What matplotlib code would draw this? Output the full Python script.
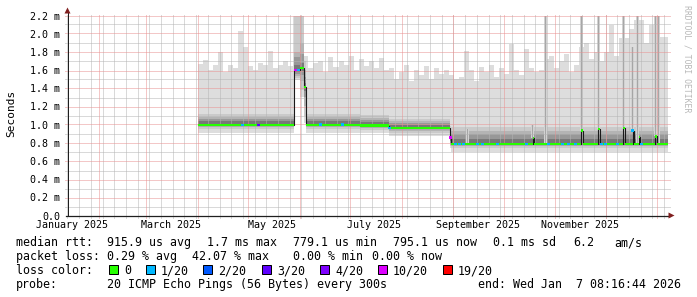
import matplotlib
matplotlib.use('Agg')
import matplotlib.pyplot as plt
import matplotlib.dates as mdates
from matplotlib.patches import Polygon, Rectangle
import numpy as np
import pandas as pd

W, H = 697, 297
plt.rcParams['font.family'] = ['DejaVu Sans Mono']

end_time = pd.Timestamp('2026-01-07 08:16:44')
start_time = end_time - pd.Timedelta(days=359)

# highest ping of each 3-day bin (ms), bins start at first_bin
first_bin = '2025-04-01 12:00'
bin_days = 3
max_ping = [
    1.67, 1.71, 1.60, 1.66, 1.80, 1.58, 1.66, 1.62, 2.03, 1.85,
    1.64, 1.60, 1.68, 1.66, 1.81, 1.62, 1.66, 1.70, 1.64,
    2.40, 2.40, 1.75,
    1.62, 1.68, 1.70, 1.58, 1.74, 1.63, 1.70, 1.66, 1.75, 1.60,
    1.72, 1.65, 1.70, 1.62, 1.73, 1.60,
    1.62, 1.50, 1.58, 1.66, 1.48, 1.60, 1.55, 1.64, 1.50, 1.62, 1.56, 1.60,
    1.55, 1.50, 1.52, 1.81, 1.60, 1.48, 1.63, 1.58, 1.66, 1.52,
    1.62, 1.56, 1.89, 1.60, 1.55, 1.83, 1.62, 1.58, 1.60, 1.72,
    1.75, 1.62, 1.70, 1.78, 1.58, 1.66, 1.85, 1.90, 1.72, 1.80,
    1.70, 1.80, 2.10, 1.75, 1.95, 1.95, 2.05, 2.15, 2.15, 1.90,
    2.10, 2.18, 1.96, 1.96,
]

# periods with a steady median, and the ping spread (ms) in each
seg_start = ['2025-04-01 12:00', '2025-05-28 14:00', '2025-06-01 04:00',
             '2025-06-03 14:00', '2025-06-04 18:00', '2025-07-07 14:00',
             '2025-07-24 10:00', '2025-08-29 22:00', '2025-08-31 00:00']
seg_median = [0.995, 1.60, 1.62, 1.41, 1.00, 0.99, 0.96, 0.86, 0.785]
seg_min = [0.91, 1.49, 1.30, 1.02, 0.91, 0.91, 0.88, 0.74, 0.70]
band2_lo = [0.95, 1.51, 1.38, 1.10, 0.95, 0.945, 0.91, 0.76, 0.745]
band2_hi = [1.12, 2.40, 2.40, 1.70, 1.12, 1.11, 1.06, 0.98, 0.97]
band3_lo = [0.97, 1.54, 1.48, 1.20, 0.97, 0.965, 0.935, 0.78, 0.765]
band3_hi = [1.085, 1.80, 1.90, 1.60, 1.085, 1.075, 1.04, 0.95, 0.93]
band4_lo = [0.98, 1.56, 1.55, 1.30, 0.98, 0.975, 0.95, 0.80, 0.775]
band4_hi = [1.06, 1.74, 1.78, 1.52, 1.06, 1.05, 1.02, 0.92, 0.895]
band5_lo = [0.99, 1.58, 1.59, 1.37, 0.99, 0.985, 0.955, 0.82, 0.78]
band5_hi = [1.035, 1.66, 1.68, 1.46, 1.035, 1.025, 0.995, 0.89, 0.845]

# short median jumps
med_spike = ['2025-10-18 14:00', '2025-11-16 20:00', '2025-11-27 00:00',
             '2025-12-12 00:00', '2025-12-17 10:00', '2025-12-21 00:00',
             '2025-12-31 00:00']
med_spike_val = [0.85, 0.935, 0.95, 0.96, 0.935, 0.86, 0.87]

# narrow smoke columns
spike_time = ['2025-09-09 12:00', '2025-10-18 14:00', '2025-10-26 10:00',
              '2025-11-16 20:00', '2025-11-27 00:00', '2025-12-12 00:00',
              '2025-12-17 10:00', '2025-12-20 10:00', '2025-12-31 00:00',
              '2026-01-01 20:00']
spike_top = [0.95, 1.00, 2.30, 2.30, 2.30, 2.30, 1.85, 2.30, 2.30, 2.30]

# lost pings (out of 20)
loss_time = ['2025-04-28 00:00', '2025-05-07 14:00', '2025-05-29 20:00',
             '2025-05-31 14:00', '2025-06-13 16:00', '2025-06-26 22:00',
             '2025-07-25 00:00', '2025-08-30 06:00', '2025-09-02 12:00',
             '2025-09-04 22:00', '2025-09-07 08:00', '2025-09-15 14:00',
             '2025-09-18 14:00', '2025-09-27 14:00', '2025-10-15 00:00',
             '2025-10-28 06:00', '2025-11-05 12:00', '2025-11-09 02:00',
             '2025-11-13 08:00', '2025-11-28 22:00', '2025-12-01 04:00',
             '2025-12-08 10:00', '2025-12-17 10:00', '2025-12-22 12:00']
loss_count = [1, 3, 10, 1, 1, 1, 1, 10, 1, 1, 1, 1, 1, 1, 1, 1, 1, 1, 1, 1,
              1, 1, 1, 1]

loss_levels = [0, 1, 2, 3, 4, 10, 19]
loss_labels = ['0', '1/20', '2/20', '3/20', '4/20', '10/20', '19/20']
loss_colors = ['#26ff00', '#00b8ff', '#0059ff', '#5e00ff', '#7e00ff',
               '#dd00ff', '#ff0000']
smoke_colors = ['#dddddd', '#cacaca', '#b4b4b4', '#989898', '#787878']

stats_rtt = [('median rtt:', 16), ('915.9 us avg', 107), ('1.7 ms max', 207),
             ('779.1 us min', 293), ('795.1 us now', 393), ('0.1 ms sd', 493),
             ('6.2', 573), ('am/s', 614)]
stats_loss = [('packet loss:', 16), ('0.29 % avg', 107), ('42.07 % max', 192),
              ('0.00 % min', 293), ('0.00 % now', 372)]
probe_line = [('probe:', 16), ('20 ICMP Echo Pings (56 Bytes) every 300s', 107),
              ('end: Wed Jan  7 08:16:44 2026', 478)]


def num(s):
    return mdates.date2num(pd.Timestamp(s))


t0, t1 = num(start_time), num(end_time)
YMAX = 2.2
seg_t = np.array([num(s) for s in seg_start])
bin_t = num(first_bin) + bin_days * np.arange(len(max_ping))

fig = plt.figure(figsize=(W / 100, H / 100), dpi=100)
fig.patch.set_facecolor('white')
ax = fig.add_axes([67.5 / W, 1 - 215.5 / H, 600 / W, 200 / H])
ax.set_axis_off()
ax.set_xlim(t0, t1)
ax.set_ylim(0, YMAX)

# smoke
edges = np.unique(np.concatenate([bin_t, seg_t, [t1]]))
edges = edges[(edges >= seg_t[0]) & (edges <= t1)]
bi = np.clip(np.searchsorted(bin_t, edges, side='right') - 1, 0, len(bin_t) - 1)
si = np.searchsorted(seg_t, edges, side='right') - 1
top = np.maximum(np.array(max_ping)[bi], np.array(band2_hi)[si])
ax.fill_between(edges, np.array(seg_min)[si], top, step='post',
                color=smoke_colors[0], lw=0, zorder=1)
for col, lo, hi in zip(smoke_colors[1:], [band2_lo, band3_lo, band4_lo, band5_lo],
                       [band2_hi, band3_hi, band4_hi, band5_hi]):
    ax.fill_between(edges, np.array(lo)[si], np.array(hi)[si], step='post',
                    color=col, lw=0, zorder=1)


def median_at(t):
    v = seg_median[np.searchsorted(seg_t, t, side='right') - 1]
    for s, sv in zip(med_spike, med_spike_val):
        if num(s) <= t < num(s) + 0.8:
            v = sv
    return v


for s, h in zip(spike_time, spike_top):
    m = median_at(num(s))
    ax.bar(num(s), h - m, bottom=m, width=1.6, color='#d2d2d2', lw=0, zorder=2)
    ax.bar(num(s), h - m, bottom=m, width=0.6, color='#a6a6a6', lw=0, zorder=2)


# grid: 1px dots, snapped to pixel centres, 2px past the canvas as ticks
def snap_t(t):
    p = np.round((np.asarray(t) - t0) * 600 / (t1 - t0))
    return t0 + p * (t1 - t0) / 600


def snap_v(v):
    return np.round(np.asarray(v) / YMAX * 200) * YMAX / 200


xt = ax.get_xaxis_transform()
yt = ax.get_yaxis_transform()
minor_col = '#b4b4b4'
major_col = '#e99090'
gkw = dict(lw=0.72, ls=(0, (1, 1)), zorder=3, clip_on=False)
weeks = mdates.date2num(pd.date_range(start_time.normalize(), end_time, freq='W-MON'))
months = mdates.date2num(pd.date_range('2025-02-01', end_time, freq='MS'))
minor_v = np.arange(0.1, 2.21, 0.2)
major_v = np.round(np.arange(1, 12) * 0.2, 1)
ax.vlines(snap_t(weeks), -2.5 / 200, 1 + 2 / 200, transform=xt, color=minor_col, **gkw)
ax.hlines(snap_v(minor_v), -2.5 / 600, 1 + 2 / 600, transform=yt,
          color=minor_col, **gkw)
ax.vlines(snap_t(months), -2.5 / 200, 1 + 2 / 200, transform=xt, color=major_col, **gkw)
ax.hlines(snap_v(major_v), -2.5 / 600, 1 + 2 / 600, transform=yt,
          color=major_col, **gkw)

# median line coloured by loss
mt = np.unique(np.concatenate([seg_t, [num(s) for s in med_spike],
                               [num(s) + 0.8 for s in med_spike], [t1]]))
mv = np.array([median_at(t) for t in mt])
ax.step(mt, mv, where='post', color='#1a1a1a', lw=0.8, zorder=4)
ax.fill_between(mt, mv - 0.012, mv + 0.012, step='post', color=loss_colors[0],
                lw=0, zorder=5)
for s, c in zip(loss_time, loss_count):
    col = loss_colors[max(i for i, lv in enumerate(loss_levels) if lv <= c)]
    m = median_at(num(s))
    ax.bar(num(s), 0.026, bottom=m - 0.013, width=1.8, color=col, lw=0, zorder=6)

# axes, arrows
ax.plot([0, 0], [0, 1 + 4 / 200], transform=ax.transAxes, color='#1f1f1f',
        lw=0.72, clip_on=False, zorder=7)
ax.plot([-2 / 600, 1 + 2 / 600], [0, 0], transform=ax.transAxes, color='#1f1f1f',
        lw=0.9, clip_on=False, zorder=7)
arrow_col = '#801f1f'
ax.add_patch(Polygon([[-3 / 600, 1 + 2 / 200], [3 / 600, 1 + 2 / 200],
                      [0, 1 + 8 / 200]], closed=True, transform=ax.transAxes,
                     color=arrow_col, clip_on=False, zorder=8, lw=0))
ax.add_patch(Polygon([[1 + 1 / 600, -3 / 200], [1 + 1 / 600, 3 / 200],
                      [1 + 7 / 600, 0]], closed=True, transform=ax.transAxes,
                     color=arrow_col, clip_on=False, zorder=8, lw=0))

# tick labels
for m in pd.date_range('2025-01-01', '2025-11-01', freq='2MS'):
    ax.text(num(m + pd.Timedelta(days=15)), -13 / 200, m.strftime('%B %Y'),
            transform=xt, ha='center', va='baseline', fontsize=7.2)
for v in np.round(np.arange(0, 12) * 0.2, 1):
    ax.text(-7 / 600, v, '0.0' if v == 0 else f'{v:.1f} m', transform=yt,
            ha='right', va='center_baseline', fontsize=7.2)

fig.text(11 / W, 1 - 113.5 / H, 'Seconds', rotation=90, ha='center',
         va='center', fontsize=8)
fig.text(687.5 / W, 1 - 5 / H, 'RRDTOOL / TOBI OETIKER', rotation=270,
         ha='center', va='top', fontsize=5.9, color='#b8b8b8')

# legend block
fs = 8.37
for (txt, x) in stats_rtt:
    fig.text(x / W, 1 - 246 / H, txt, fontsize=fs, va='baseline')
for (txt, x) in stats_loss:
    fig.text(x / W, 1 - 260 / H, txt, fontsize=fs, va='baseline')
fig.text(16 / W, 1 - 274 / H, 'loss color:', fontsize=fs, va='baseline')
box_x = [109, 146, 203, 262, 320, 378, 443]
for bx, lab, col in zip(box_x, loss_labels, loss_colors):
    fig.add_artist(Rectangle((bx / W, 1 - 274 / H), 9 / W, 9 / H,
                             facecolor=col, edgecolor='black', lw=0.72))
    fig.text((bx + 15) / W, 1 - 274 / H, lab, fontsize=fs, va='baseline')
for (txt, x) in probe_line:
    fig.text(x / W, 1 - 288 / H, txt, fontsize=fs, va='baseline')

fig.savefig('out.png', dpi=100, facecolor='white')
